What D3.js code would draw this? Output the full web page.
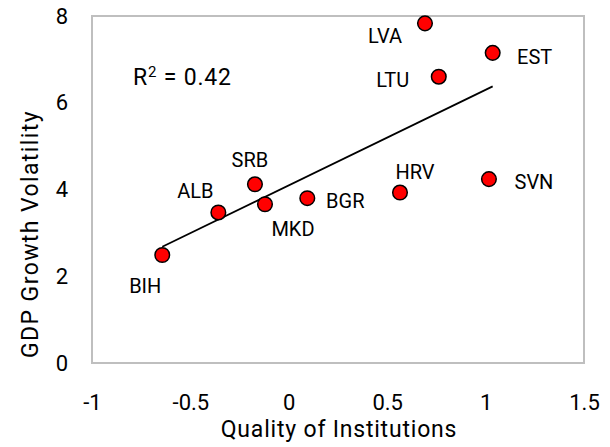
<!DOCTYPE html>
<meta charset="utf-8">
<head>
  <title>Institutions vs GDP growth volatility</title>
</head>

<style>
body { margin: 0; background: #fff; }
text {
  font-family: Roboto, "Noto Sans", sans-serif;
  fill: #000;
}
.tick text { font-size: 22px; }
.lbl { font-size: 20px; }
.title { font-size: 23px; letter-spacing: 0.8px; }
</style>

<body>
  <svg width="610" height="447"></svg>

  <script src="https://cdnjs.cloudflare.com/ajax/libs/d3/7.8.5/d3.min.js"></script>
  <script>

var countries = ["BIH", "ALB", "SRB", "MKD", "BGR", "HRV", "SVN", "LVA", "EST", "LTU"];
var institutions = [-0.643, -0.358, -0.172, -0.121, 0.094, 0.565, 1.017, 0.692, 1.036, 0.762];
var volatility = [2.49, 3.47, 4.12, 3.66, 3.80, 3.93, 4.24, 7.83, 7.15, 6.60];
var xTicks = [-1, -0.5, 0, 0.5, 1, 1.5];
var yTicks = [0, 2, 4, 6, 8];
var r2Text = "0.42";

// where each label sits relative to its marker (px)
var labelOffset = {
  BIH: [-17, 31], ALB: [-23, -21], SRB: [-5, -24], MKD: [28, 25], BGR: [38, 3],
  HRV: [15, -21], SVN: [45, 3], LVA: [-40, 13], EST: [42, 4], LTU: [-46, 3]
};

var points = countries.map(function(c, i) {
  return {name: c, x: institutions[i], y: volatility[i]};
});

var x = d3.scaleLinear().domain([-1, 1.5]).range([92, 584]);
var y = d3.scaleLinear().domain([0, 8]).range([363, 16]);

var svg = d3.select('svg');

// plot area border
svg.append('rect')
  .attr('x', x(-1)).attr('y', y(8))
  .attr('width', x(1.5) - x(-1)).attr('height', y(0) - y(8))
  .attr('fill', 'none').attr('stroke', '#bfbfbf').attr('stroke-width', 2);

var xAxis = svg.append('g')
  .attr('transform', 'translate(0,' + 394 + ')')
  .call(d3.axisBottom(x).tickValues(xTicks).tickSize(0).tickPadding(0)
    .tickFormat(function(d) { return d; }));
xAxis.select('.domain').remove();

var yAxis = svg.append('g')
  .attr('transform', 'translate(68,0)')
  .call(d3.axisLeft(y).tickValues(yTicks).tickSize(0).tickPadding(0));
yAxis.select('.domain').remove();
svg.selectAll('.tick text').attr('font-family', null).attr('font-size', null);

// linear trendline over the data range
var mx = d3.mean(institutions), my = d3.mean(volatility);
var sxy = d3.sum(points, function(p) { return (p.x - mx) * (p.y - my); });
var sxx = d3.sum(points, function(p) { return (p.x - mx) * (p.x - mx); });
var slope = sxy / sxx, icpt = my - slope * mx;
var xr = d3.extent(institutions);
svg.append('line')
  .attr('x1', x(xr[0])).attr('y1', y(icpt + slope * xr[0]))
  .attr('x2', x(xr[1])).attr('y2', y(icpt + slope * xr[1]))
  .attr('stroke', '#000').attr('stroke-width', 1.75);

svg.selectAll('circle.pt')
  .data(points)
  .enter()
  .append('circle')
  .attr('class', 'pt')
  .attr('cx', function(d) { return x(d.x); })
  .attr('cy', function(d) { return y(d.y); })
  .attr('r', 7.3)
  .attr('fill', '#ff0000')
  .attr('stroke', '#000')
  .attr('stroke-width', 1.5);

svg.selectAll('text.lbl')
  .data(points)
  .enter()
  .append('text')
  .attr('class', 'lbl')
  .attr('x', function(d) { return x(d.x) + labelOffset[d.name][0]; })
  .attr('y', function(d) { return y(d.y) + labelOffset[d.name][1]; })
  .attr('text-anchor', 'middle')
  .attr('dominant-baseline', 'central')
  .text(function(d) { return d.name; });

var r2 = svg.append('text')
  .attr('class', 'title')
  .attr('x', 133).attr('y', 85);
r2.append('tspan').text('R');
r2.append('tspan').attr('dy', -8).attr('font-size', 15).text('2');
r2.append('tspan').attr('dy', 8).text(' = ' + r2Text);

svg.append('text')
  .attr('class', 'title')
  .attr('x', 339).attr('y', 437)
  .attr('text-anchor', 'middle')
  .text('Quality of Institutions');

svg.append('text')
  .attr('class', 'title')
  .attr('transform', 'translate(38,234) rotate(-90)')
  .attr('text-anchor', 'middle')
  .style('letter-spacing', '1.4px')
  .text('GDP Growth Volatility');

  </script>
</body>
</html>
